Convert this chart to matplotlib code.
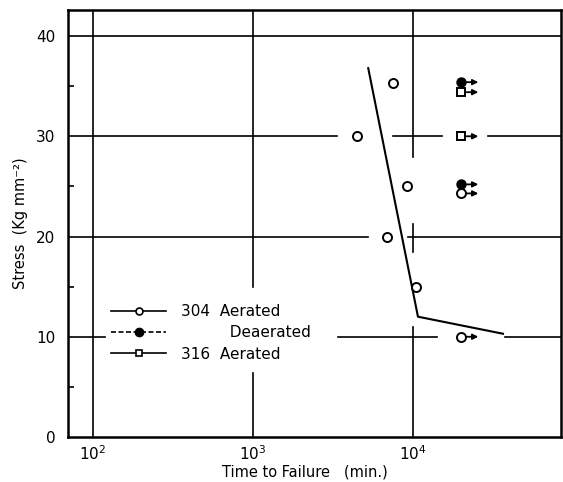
import matplotlib.pyplot as plt
from matplotlib.lines import Line2D
from matplotlib.ticker import FixedLocator

# 304 stainless, aerated: failures
aer304_time = [7500, 4470, 9170, 6880, 10450]
aer304_stress = [35.3, 30.0, 25.0, 20.0, 15.0]
# 304 aerated: unbroken (run-out) specimens
aer304_runout_time = [20000, 20000]
aer304_runout_stress = [24.3, 10.0]
# 304 deaerated: all run-outs
dea304_time = [20000, 20000]
dea304_stress = [35.4, 25.2]
# 316 aerated: all run-outs
aer316_time = [20000, 20000]
aer316_stress = [34.4, 30.0]
# fitted curve for 304 aerated
curve_time = [5250, 10740, 36500]
curve_stress = [36.8, 12.0, 10.3]

X_MIN, X_MAX = 69.8, 84100
Y_MIN, Y_MAX = 0, 42.6

# broken grid lines (they stop short of the plotted points and the legend)
hgrid = [
    (40, [(X_MIN, X_MAX)]),
    (30, [(X_MIN, 3350), (7500, 15200), (29400, X_MAX)]),
    (20, [(X_MIN, 5230), (9300, X_MAX)]),
    (10, [(X_MIN, 119), (3400, 14100), (37600, X_MAX)]),
]
vgrid = [
    (1e2, [(Y_MIN, Y_MAX)]),
    (1e3, [(Y_MIN, 6.4), (15.0, Y_MAX)]),
    (1e4, [(Y_MIN, 11.0), (18.5, 21.2), (27.9, Y_MAX)]),
]

fig = plt.figure(figsize=(5.63, 4.82), dpi=100)
ax = fig.add_axes([0.1208, 0.0934, 0.8756, 0.8859])
ax.set_xscale("log")
ax.set_xlim(X_MIN, X_MAX)
ax.set_ylim(Y_MIN, Y_MAX)

for y, segs in hgrid:
    for x0, x1 in segs:
        ax.plot([x0, x1], [y, y], color="black", lw=1.2, zorder=1)
for x, segs in vgrid:
    for y0, y1 in segs:
        ax.plot([x, x], [y0, y1], color="black", lw=1.2, zorder=1)

ax.plot(curve_time, curve_stress, color="black", lw=1.5, zorder=2)

open_kw = dict(ls="none", mfc="white", mec="black", mew=1.4, ms=6.5, zorder=4)
ax.plot(aer304_time, aer304_stress, marker="o", **open_kw)
ax.plot(aer304_runout_time, aer304_runout_stress, marker="o", **open_kw)
ax.plot(aer316_time, aer316_stress, marker="s", **dict(open_kw, ms=6))
ax.plot(dea304_time, dea304_stress, marker="o", ls="none", color="black", ms=6.5, zorder=4)

# run-out arrows
runout_t = aer304_runout_time + dea304_time + aer316_time
runout_s = aer304_runout_stress + dea304_stress + aer316_stress
for t, s in zip(runout_t, runout_s):
    ax.annotate("", xy=(t * 1.28, s), xytext=(t, s),
                arrowprops=dict(arrowstyle="-|>", color="black", lw=1.3,
                                mutation_scale=8, shrinkA=4, shrinkB=0),
                zorder=3)

for side in ax.spines.values():
    side.set_linewidth(1.8)

ax.xaxis.set_major_locator(FixedLocator([1e2, 1e3, 1e4]))
ax.xaxis.set_minor_locator(FixedLocator([]))
ax.yaxis.set_major_locator(FixedLocator([0, 10, 20, 30, 40]))
ax.yaxis.set_minor_locator(FixedLocator([5, 15, 25, 35]))
ax.tick_params(axis="both", which="major", length=0, labelsize=11)
ax.tick_params(axis="y", which="major", pad=9)
ax.tick_params(axis="x", which="major", pad=5)
ax.tick_params(axis="y", which="minor", direction="in", length=4.5, width=1.2)

ax.set_xlabel("Time to Failure   (min.)", fontsize=10.5, labelpad=1)
ax.xaxis.label.set_x(0.481)
ax.set_ylabel("Stress  (Kg mm\u207b\u00b2)", fontsize=10.5, labelpad=6)

handles = [
    Line2D([], [], color="black", lw=1.2, marker="o", mfc="white", mec="black", mew=1.2, ms=5),
    Line2D([], [], color="black", lw=1.2, ls=(0, (3, 1.5)), marker="o", mfc="black", mec="black", ms=6),
    Line2D([], [], color="black", lw=1.2, marker="s", mfc="white", mec="black", mew=1.2, ms=5),
]
labels = ["304  Aerated", "          Deaerated", "316  Aerated"]
ax.legend(handles, labels, loc="upper left", bbox_to_anchor=(0.075, 0.326),
          frameon=False, fontsize=11, handlelength=3.6, handletextpad=1.0,
          labelspacing=0.42, borderaxespad=0)

fig.savefig("out.png", dpi=100)
